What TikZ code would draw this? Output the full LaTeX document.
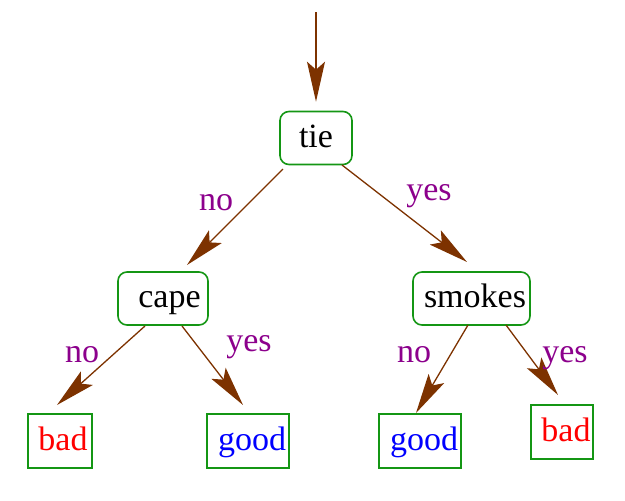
\documentclass[tikz,border=0pt]{standalone}
\usepackage{fontspec}
\setmainfont{Liberation Serif}
\usetikzlibrary{arrows.meta,calc}
\definecolor{arrowbrown}{RGB}{125,50,0}
\definecolor{boxgreen}{RGB}{20,150,20}
\definecolor{labpurple}{RGB}{140,0,140}
\begin{document}
\begin{tikzpicture}[x=1pt,y=-1pt,
  every node/.style={font=\fontsize{34}{40}\selectfont, inner sep=0pt},
  decision/.style={draw=boxgreen, line width=1.6pt, rounded corners=9pt, minimum height=53pt, text height=24pt, text depth=6pt},
  leaf/.style={draw=boxgreen, line width=1.6pt, minimum height=54pt, text height=24pt, text depth=6pt},
  conn/.style={draw=arrowbrown, line width=1.3pt, -{Stealth[length=40pt,width=18pt,inset=8pt]}},
  lab/.style={text=labpurple, anchor=base}
]
\useasboundingbox (0,0) rectangle (625,501);
\coordinate (start) at (316,12);
\node[decision, minimum width=72pt] (tie) at (316,138) {tie};
\node[decision, minimum width=90pt] (cape) at (163,298.5) {\hspace*{13pt}cape};
\node[decision, minimum width=117pt] (smokes) at (471.5,298.5) {\hspace*{7pt}smokes};
\node[leaf, minimum width=64pt, text=red] (bad1) at (60,441) {\hspace*{6pt}bad};
\node[leaf, minimum width=82pt, text=blue] (good1) at (248,441) {\hspace*{8pt}good};
\node[leaf, minimum width=82pt, text=blue] (good2) at (420,441) {\hspace*{8pt}good};
\node[leaf, minimum width=62pt, text=red] (bad2) at (562,432) {\hspace*{8pt}bad};

\draw[conn] (start) -- ($(tie.north)+(0,-9)$);
\draw[conn] ($(tie)+(-33,31)$) -- ($(cape)+(24,-33.5)$);
\draw[conn] ($(tie)+(26,27)$) -- ($(smokes)+(-4.5,-36.5)$);
\draw[conn] ($(cape)+(-18,27.5)$) -- ($(bad1)+(-3,-36)$);
\draw[conn] ($(cape)+(19,27.5)$) -- ($(good1)+(-5,-36)$);
\draw[conn] ($(smokes)+(-3.5,26.5)$) -- ($(good2)+(-4,-28)$);
\draw[conn] ($(smokes)+(34.5,26.5)$) -- ($(bad2)+(-4,-37)$);

\node[lab] (l1) at (216,210) {no};
\node[lab] (l2) at (429,200) {yes};
\node[lab] (l3) at (82,362) {no};
\node[lab] (l4) at (249,351) {yes};
\node[lab] (l5) at (414,362) {no};
\node[lab] (l6) at (565,362) {yes};
\end{tikzpicture}
\end{document}
